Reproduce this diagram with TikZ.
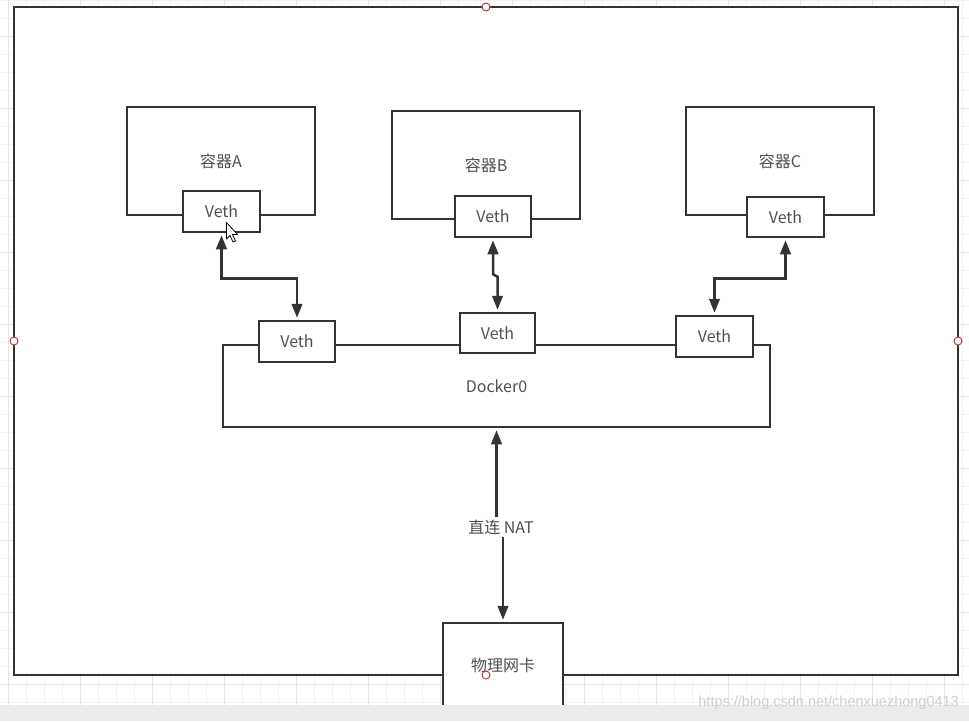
\documentclass[tikz,border=0pt]{standalone}
\usepackage{fontspec}
\setmainfont{Noto Sans CJK SC}
\newfontfamily\wmfont{Liberation Sans}
\usetikzlibrary{arrows.meta,calc}
\definecolor{ink}{HTML}{333333}
\definecolor{txt}{HTML}{505050}
\definecolor{gridminor}{HTML}{F3F3F3}
\definecolor{gridmajor}{HTML}{E6E6E6}
\definecolor{handlered}{HTML}{B04040}
\definecolor{barcol}{HTML}{EBEBEB}
\definecolor{wmcol}{HTML}{CFCFCF}
\begin{document}
\begin{tikzpicture}[x=1pt,y=-1pt,
  box/.style={draw=ink,line width=2.5pt,fill=white,inner sep=0pt,
    font=\fontsize{16}{18}\selectfont,text=txt},
  tri/.tip={Triangle[length=14pt,width=10.5pt]},
  link/.style={draw=ink,line width=2.5pt,shorten <=2pt,shorten >=2pt},
  handle/.style={circle,draw=handlered,fill=white,line width=1pt,minimum size=8pt,inner sep=0pt}]
\useasboundingbox (0,0) rectangle (969,721);
\fill[white] (0,0) rectangle (969,721);
% background grid
\foreach \gx in {8,26,...,968} {\draw[gridminor,line width=1pt] (\gx,0) -- (\gx,705);}
\foreach \gy in {0,18,...,704} {\draw[gridminor,line width=1pt] (0,\gy) -- (969,\gy);}
\foreach \gx in {8,80,...,968} {\draw[gridmajor,line width=1pt] (\gx,0) -- (\gx,705);}
\foreach \gy in {36,108,...,704} {\draw[gridmajor,line width=1pt] (0,\gy) -- (969,\gy);}
% outer frame
\node[draw=ink,line width=2.5pt,fill=white,minimum width=944pt,minimum height=668pt,inner sep=0pt] (frame) at (486,341) {};
% containers
\node[box,minimum width=188pt,minimum height=108pt] (contA) at (221,161) {容器A};
\node[box,minimum width=188pt,minimum height=108pt] (contB) at (486,165) {容器B};
\node[box,minimum width=188pt,minimum height=108pt] (contC) at (780,161) {容器C};
\node[box,minimum width=77pt,minimum height=41pt] (vethA) at (221.5,211.5) {Veth};
\node[box,minimum width=76pt,minimum height=41pt] (vethB) at (493,216.5) {Veth};
\node[box,minimum width=77pt,minimum height=40pt] (vethC) at (785.5,217) {Veth};
% docker0 bridge
\node[box,minimum width=547pt,minimum height=82pt] (docker) at (496.5,386) {Docker0};
\node[box,minimum width=76pt,minimum height=41pt] (vethD1) at (297,341.5) {Veth};
\node[box,minimum width=75pt,minimum height=40pt] (vethD2) at (497.5,333) {Veth};
\node[box,minimum width=77pt,minimum height=41pt] (vethD3) at (714.5,336.5) {Veth};
% physical NIC
\node[box,minimum width=120pt,minimum height=84pt] (phys) at (503,665) {物理网卡};
% veth pairs
\draw[link,tri-tri] (vethA.south) -- ++(0,45) -| (vethD1.north);
\draw[link,tri-tri] (vethB.south) -- ++(0,36) -- ($(vethD2.north)+(0,-35)$) -- (vethD2.north);
\draw[link,tri-tri] (vethC.south) -- ++(0,40) -| (vethD3.north);
% NAT link
\node[font=\fontsize{16}{18}\selectfont,text=txt,inner sep=2pt] (nat) at (501,527) {直连 NAT};
\draw[link,-tri,shorten <=0pt] (docker.south |- nat.north) -- (docker.south);
\draw[link,-tri,shorten <=0pt] (phys.north |- nat.south) -- (phys.north);
% selection handles
\node[handle] (h1) at (486,7) {};
\node[handle] (h2) at (14,341) {};
\node[handle] (h3) at (958,341) {};
\node[handle] (h4) at (486,675) {};
% mouse cursor
\filldraw[fill=white,draw=black,line width=0.8pt,line join=round]
  (226.5,222.5) -- (226.5,239) -- (230,235.5) -- (233,242) -- (235.5,241) -- (232.5,234.5) -- (237.5,234.5) -- cycle;
% bottom bar and watermark
\fill[barcol] (0,705) rectangle (969,721);
\node[anchor=east,font=\wmfont\fontsize{14.5}{16}\selectfont,text=wmcol,inner sep=0pt] (wm) at (959,703) {https://blog.csdn.net/chenxuezhong0413};
\end{tikzpicture}
\end{document}
